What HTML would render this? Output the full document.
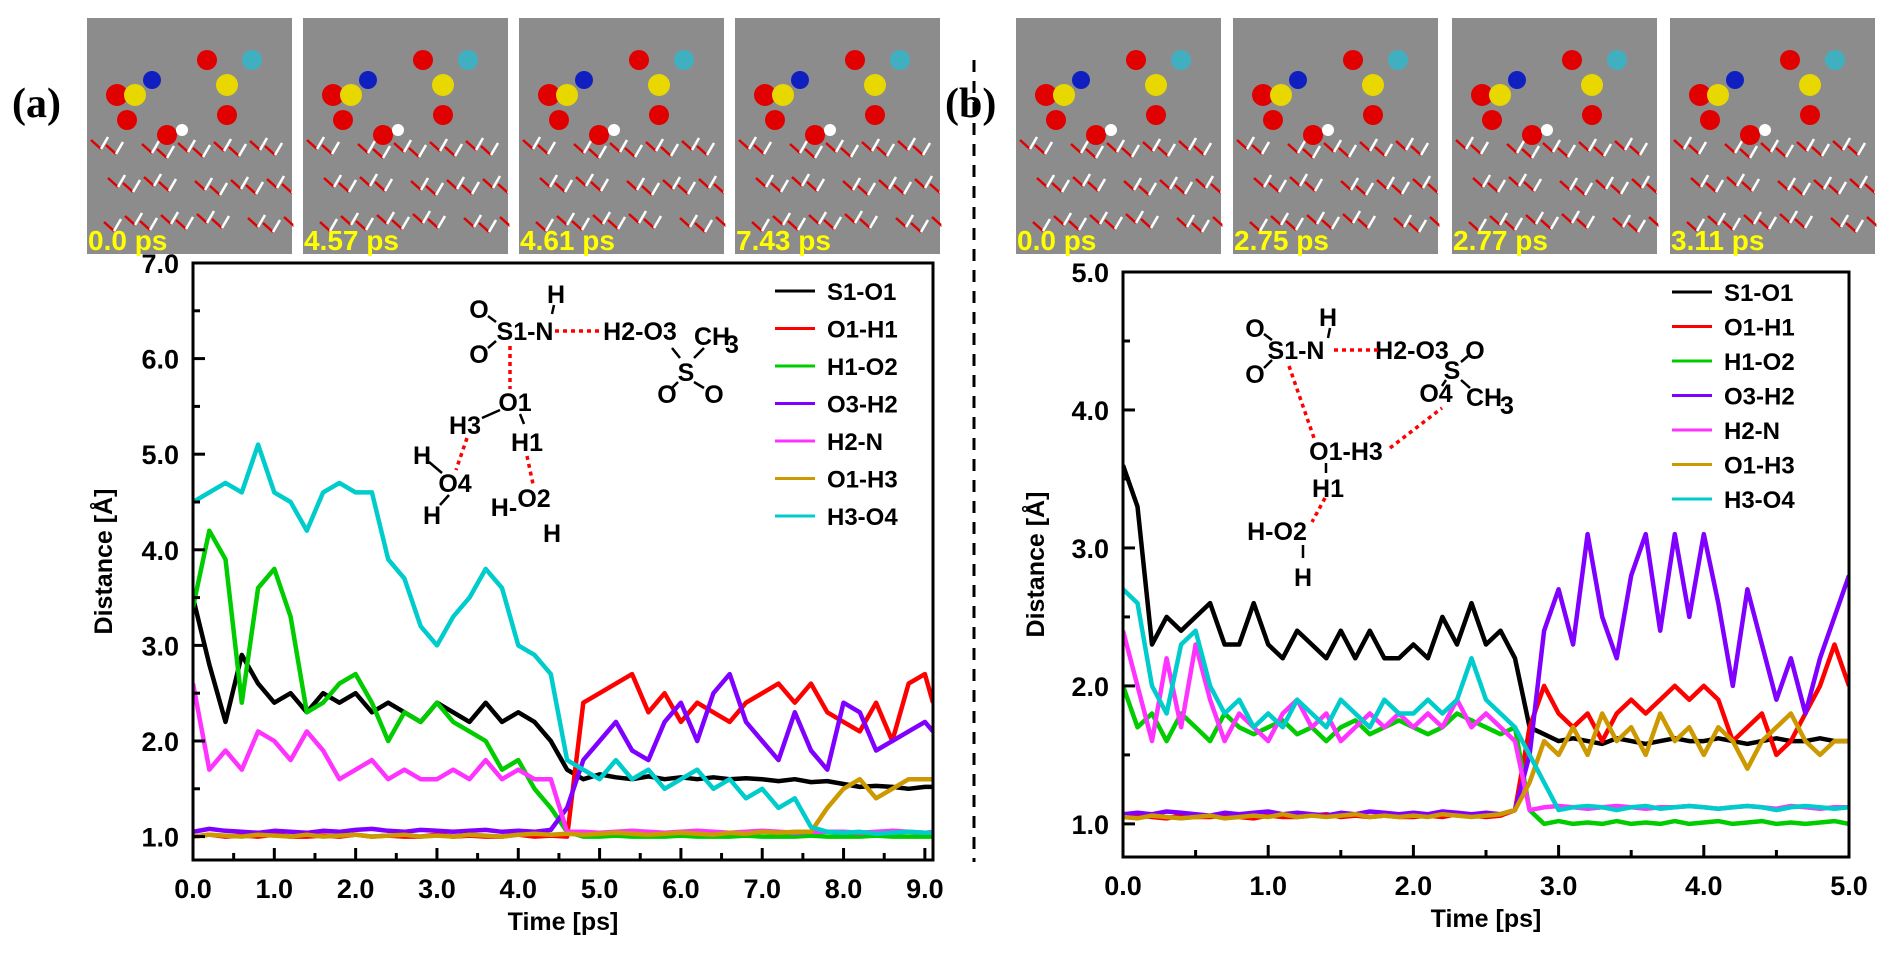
<!DOCTYPE html>
<html><head><meta charset="utf-8"><style>
html,body{margin:0;padding:0;background:#fff;}
svg{display:block;font-family:"Liberation Sans",Arial,sans-serif;}
.tk{font-size:27px;font-weight:bold;}
.lg{font-size:24px;font-weight:bold;}
.st{font-size:25px;font-weight:bold;}
.ttl{font-size:25px;font-weight:bold;}
.snap{font-size:28px;font-weight:bold;fill:#ffff00;}
</style></head><body>
<svg id="fig" width="1892" height="958" viewBox="0 0 1892 958">
<text x="12" y="117" font-family="Liberation Serif,serif" font-size="42" font-weight="bold">(a)</text>
<text x="945" y="117" font-family="Liberation Serif,serif" font-size="42" font-weight="bold">(b)</text>
<line x1="974" y1="60" x2="974" y2="862" stroke="#000" stroke-width="3" stroke-dasharray="12,9"/>
<g id="snaps"></g>
<g id="chartA"></g>
<g id="chartB"></g>
</svg>
<script>
// ---- Panel (a) data (time step 0.2 ps) ----
const tA = [0,0.2,0.4,0.6,0.8,1.0,1.2,1.4,1.6,1.8,2.0,2.2,2.4,2.6,2.8,3.0,3.2,3.4,3.6,3.8,4.0,4.2,4.4,4.6,4.8,5.0,5.2,5.4,5.6,5.8,6.0,6.2,6.4,6.6,6.8,7.0,7.2,7.4,7.6,7.8,8.0,8.2,8.4,8.6,8.8,9.0,9.1];
const aS1O1 = [3.5,2.8,2.2,2.9,2.6,2.4,2.5,2.3,2.5,2.4,2.5,2.3,2.4,2.3,2.2,2.4,2.3,2.2,2.4,2.2,2.3,2.2,2.0,1.7,1.6,1.65,1.62,1.6,1.63,1.6,1.62,1.6,1.62,1.6,1.61,1.6,1.58,1.6,1.57,1.58,1.55,1.52,1.53,1.52,1.5,1.52,1.52];
const aO1H1 = [1.0,1.02,1.0,1.01,1.0,1.02,1.0,1.0,1.01,1.0,1.02,1.0,1.01,1.0,1.0,1.02,1.0,1.01,1.0,1.0,1.02,1.0,1.01,1.0,2.4,2.5,2.6,2.7,2.3,2.5,2.2,2.4,2.3,2.2,2.4,2.5,2.6,2.4,2.6,2.3,2.2,2.1,2.4,2.0,2.6,2.7,2.4];
const aH1O2 = [3.4,4.2,3.9,2.4,3.6,3.8,3.3,2.3,2.4,2.6,2.7,2.4,2.0,2.3,2.2,2.4,2.2,2.1,2.0,1.7,1.8,1.5,1.3,1.05,1.0,1.0,1.01,1.0,1.0,1.0,1.01,1.0,1.0,1.0,1.01,1.0,1.0,1.0,1.01,1.0,1.0,1.0,1.01,1.0,1.0,1.0,1.0];
const aO3H2 = [1.05,1.08,1.06,1.05,1.04,1.06,1.05,1.04,1.06,1.05,1.07,1.08,1.06,1.05,1.07,1.06,1.05,1.06,1.07,1.05,1.06,1.05,1.07,1.3,1.8,2.0,2.2,1.9,1.8,2.2,2.4,2.0,2.5,2.7,2.2,2.0,1.8,2.3,1.9,1.7,2.4,2.3,1.9,2.0,2.1,2.2,2.1];
const aH2N = [2.6,1.7,1.9,1.7,2.1,2.0,1.8,2.1,1.9,1.6,1.7,1.8,1.6,1.7,1.6,1.6,1.7,1.6,1.8,1.6,1.7,1.6,1.6,1.05,1.05,1.04,1.05,1.06,1.05,1.04,1.05,1.06,1.05,1.04,1.05,1.06,1.05,1.04,1.05,1.05,1.05,1.04,1.05,1.06,1.05,1.04,1.05];
const aO1H3 = [1.0,1.02,1.01,1.0,1.02,1.01,1.0,1.02,1.0,1.01,1.02,1.0,1.01,1.02,1.0,1.01,1.0,1.02,1.01,1.0,1.02,1.03,1.02,1.03,1.02,1.03,1.04,1.03,1.02,1.03,1.04,1.03,1.02,1.04,1.03,1.05,1.04,1.05,1.05,1.3,1.5,1.6,1.4,1.5,1.6,1.6,1.6];
const aH3O4 = [4.5,4.6,4.7,4.6,5.1,4.6,4.5,4.2,4.6,4.7,4.6,4.6,3.9,3.7,3.2,3.0,3.3,3.5,3.8,3.6,3.0,2.9,2.7,1.8,1.7,1.6,1.8,1.6,1.7,1.5,1.6,1.7,1.5,1.6,1.4,1.5,1.3,1.4,1.1,1.05,1.04,1.05,1.03,1.04,1.05,1.04,1.04];

// ---- Panel (b) data (time step 0.1 ps) ----
const tB = [0,0.1,0.2,0.3,0.4,0.5,0.6,0.7,0.8,0.9,1.0,1.1,1.2,1.3,1.4,1.5,1.6,1.7,1.8,1.9,2.0,2.1,2.2,2.3,2.4,2.5,2.6,2.7,2.8,2.9,3.0,3.1,3.2,3.3,3.4,3.5,3.6,3.7,3.8,3.9,4.0,4.1,4.2,4.3,4.4,4.5,4.6,4.7,4.8,4.9,5.0];
const bS1O1 = [3.6,3.3,2.3,2.5,2.4,2.5,2.6,2.3,2.3,2.6,2.3,2.2,2.4,2.3,2.2,2.4,2.2,2.4,2.2,2.2,2.3,2.2,2.5,2.3,2.6,2.3,2.4,2.2,1.7,1.65,1.6,1.62,1.6,1.58,1.62,1.6,1.58,1.6,1.62,1.6,1.6,1.62,1.6,1.58,1.6,1.62,1.6,1.6,1.62,1.6,1.6];
const bO1H1 = [1.05,1.06,1.05,1.04,1.06,1.05,1.05,1.06,1.05,1.04,1.06,1.05,1.05,1.06,1.07,1.05,1.06,1.05,1.06,1.05,1.05,1.06,1.05,1.07,1.06,1.05,1.06,1.1,1.7,2.0,1.8,1.7,1.8,1.6,1.8,1.9,1.8,1.9,2.0,1.9,2.0,1.9,1.6,1.7,1.8,1.5,1.6,1.8,2.0,2.3,2.0];
const bH1O2 = [2.0,1.7,1.8,1.6,1.8,1.7,1.6,1.8,1.7,1.65,1.7,1.75,1.65,1.7,1.6,1.7,1.75,1.65,1.7,1.75,1.7,1.65,1.7,1.8,1.75,1.7,1.65,1.7,1.1,1.0,1.02,1.0,1.01,1.0,1.02,1.0,1.01,1.0,1.02,1.0,1.01,1.02,1.0,1.01,1.02,1.0,1.01,1.0,1.01,1.02,1.0];
const bO3H2 = [1.07,1.08,1.07,1.09,1.08,1.07,1.06,1.08,1.07,1.08,1.09,1.07,1.08,1.07,1.06,1.08,1.07,1.09,1.08,1.07,1.08,1.07,1.09,1.08,1.07,1.08,1.07,1.1,1.5,2.4,2.7,2.3,3.1,2.5,2.2,2.8,3.1,2.4,3.1,2.5,3.1,2.6,2.0,2.7,2.3,1.9,2.2,1.8,2.2,2.5,2.8];
const bH2N = [2.4,2.0,1.6,2.2,1.7,2.3,1.9,1.6,1.8,1.7,1.6,1.8,1.9,1.7,1.8,1.6,1.7,1.8,1.7,1.8,1.7,1.8,1.7,1.9,1.7,1.8,1.7,1.6,1.1,1.12,1.13,1.12,1.11,1.12,1.13,1.12,1.11,1.12,1.12,1.13,1.12,1.11,1.12,1.13,1.12,1.11,1.13,1.12,1.11,1.12,1.12];
const bO1H3 = [1.05,1.04,1.06,1.05,1.04,1.05,1.06,1.04,1.05,1.06,1.05,1.07,1.05,1.06,1.05,1.06,1.07,1.05,1.06,1.05,1.06,1.05,1.07,1.06,1.05,1.06,1.07,1.1,1.3,1.6,1.5,1.7,1.5,1.8,1.6,1.7,1.5,1.8,1.6,1.7,1.5,1.7,1.6,1.4,1.6,1.7,1.8,1.6,1.5,1.6,1.6];
const bH3O4 = [2.7,2.6,2.0,1.8,2.3,2.4,2.0,1.8,1.9,1.7,1.8,1.7,1.9,1.8,1.7,1.9,1.8,1.7,1.9,1.8,1.8,1.9,1.8,1.9,2.2,1.9,1.8,1.7,1.5,1.3,1.1,1.12,1.13,1.12,1.1,1.12,1.13,1.11,1.12,1.13,1.12,1.11,1.12,1.13,1.12,1.1,1.12,1.13,1.12,1.11,1.12];

const yTicksA = [1,2,3,4,5,6,7];
const yTickLabelsA = ["1.0","2.0","3.0","4.0","5.0","6.0","7.0"];
const xTicksA = [0,1,2,3,4,5,6,7,8,9];
const xTickLabelsA = ["0.0","1.0","2.0","3.0","4.0","5.0","6.0","7.0","8.0","9.0"];
const yTicksB = [1,2,3,4,5];
const yTickLabelsB = ["1.0","2.0","3.0","4.0","5.0"];
const xTicksB = [0,1,2,3,4,5];
const xTickLabelsB = ["0.0","1.0","2.0","3.0","4.0","5.0"];
const seriesNames = ["S1-O1","O1-H1","H1-O2","O3-H2","H2-N","O1-H3","H3-O4"];
const snapTimesA = ["0.0 ps","4.57 ps","4.61 ps","7.43 ps"];
const snapTimesB = ["0.0 ps","2.75 ps","2.77 ps","3.11 ps"];

const colors = ["#000000","#ff0000","#00cc00","#8000ff","#ff33ff","#cc9900","#00cccc"];
const NS = "http://www.w3.org/2000/svg";
function mk(tag, attrs, parent){ const e=document.createElementNS(NS,tag); for(const k in attrs) e.setAttribute(k,attrs[k]); parent.appendChild(e); return e; }

const snaps = document.getElementById('snaps');
function drawSnaps(xs, labels, pfx){
  xs.forEach((x,i)=>{
    const g = mk('g',{},snaps);
    
    
    mk('rect',{x:x,y:18,width:205,height:236,fill:'#8c8c8c'},g);
    for(let k=0;k<30;k++){
      const px = x+4+((k*53)%195), py = 140+((k*37)%110);
      mk('line',{x1:px,y1:py,x2:px+10,y2:py+9,stroke:'#e00000','stroke-width':2.5},g);
      mk('line',{x1:px+10,y1:py+9,x2:px+17,y2:py-3,stroke:'#ffffff','stroke-width':2.5},g);
    }
    mk('circle',{cx:x+30,cy:95,r:11,fill:'#e00000'},g);
    mk('circle',{cx:x+48,cy:95,r:11,fill:'#e8d800'},g);
    mk('circle',{cx:x+65,cy:80,r:9,fill:'#1020c0'},g);
    mk('circle',{cx:x+40,cy:120,r:10,fill:'#e00000'},g);
    mk('circle',{cx:x+140,cy:85,r:11,fill:'#e8d800'},g);
    mk('circle',{cx:x+165,cy:60,r:10,fill:'#40b0c0'},g);
    mk('circle',{cx:x+120,cy:60,r:10,fill:'#e00000'},g);
    mk('circle',{cx:x+140,cy:115,r:10,fill:'#e00000'},g);
    mk('circle',{cx:x+80,cy:135,r:10,fill:'#e00000'},g);
    mk('circle',{cx:x+95,cy:130,r:6,fill:'#ffffff'},g);
    const t = mk('text',{x:x+1,y:250,class:'snap'},g);
    t.textContent = labels[i];
    
    
  });
}
drawSnaps([87,303,519,735], snapTimesA, 'a');
drawSnaps([1016,1233,1452,1670], snapTimesB, 'b');

function chart(gid, cfg){
  const g = document.getElementById(gid);
  const X = v => cfg.L + (v-cfg.x0)/(cfg.x1-cfg.x0)*(cfg.R-cfg.L);
  const Y = v => cfg.B - (v-cfg.y0)/(cfg.y1-cfg.y0)*(cfg.B-cfg.T);
  const clip = mk('clipPath',{id:gid+'clip'},g);
  mk('rect',{x:cfg.L,y:cfg.T,width:cfg.R-cfg.L,height:cfg.B-cfg.T},clip);
  const sg = mk('g',{'clip-path':'url(#'+gid+'clip)'},g);
  cfg.series.forEach((s,i)=>{
    const d = s.map((v,j)=>(j?'L':'M')+X(cfg.t[j]).toFixed(1)+','+Y(v).toFixed(1)).join(' ');
    const p = mk('path',{d:d,fill:'none',stroke:colors[i],'stroke-width':4.5,'stroke-linejoin':'round'},sg);
    
    
  });
  const fr = mk('rect',{x:cfg.L,y:cfg.T,width:cfg.R-cfg.L,height:cfg.B-cfg.T,fill:'none',stroke:'#000','stroke-width':3},g);
  
  
  cfg.yt.forEach((v,i)=>{
    mk('line',{x1:cfg.L,y1:Y(v),x2:cfg.L+12,y2:Y(v),stroke:'#000','stroke-width':3},g);
    if(i<cfg.yt.length-1) mk('line',{x1:cfg.L,y1:Y(v+0.5),x2:cfg.L+7,y2:Y(v+0.5),stroke:'#000','stroke-width':3},g);
    const t = mk('text',{x:cfg.L-14,y:Y(v)+10,'text-anchor':'end',class:'tk'},g);
    t.textContent = cfg.ytl[i];
    
    
  });
  cfg.xt.forEach((v,i)=>{
    mk('line',{x1:X(v),y1:cfg.B,x2:X(v),y2:cfg.B-12,stroke:'#000','stroke-width':3},g);
    if(v+0.5<=cfg.x1) mk('line',{x1:X(v+0.5),y1:cfg.B,x2:X(v+0.5),y2:cfg.B-7,stroke:'#000','stroke-width':3},g);
    const t = mk('text',{x:X(v),y:cfg.B+38,'text-anchor':'middle',class:'tk'},g);
    t.textContent = cfg.xtl[i];
    
    
  });
  const xt = mk('text',{x:(cfg.L+cfg.R)/2,y:cfg.B+70,'text-anchor':'middle',class:'ttl'},g);
  xt.textContent = 'Time [ps]';
  
  
  const yt = mk('text',{x:0,y:0,'text-anchor':'middle',class:'ttl',transform:'translate('+cfg.ytx+','+((cfg.T+cfg.B)/2)+') rotate(-90)'},g);
  yt.textContent = 'Distance [Å]';
  
  
  seriesNames.forEach((n,i)=>{
    const y = cfg.lgY + i*cfg.lgD;
    const lg = mk('g',{},g);
    
    
    mk('line',{x1:cfg.lgX,y1:y,x2:cfg.lgX+40,y2:y,stroke:colors[i],'stroke-width':3},lg);
    const t = mk('text',{x:cfg.lgX+52,y:y+9,class:'lg'},lg);
    t.textContent = n;
  });
}
chart('chartA',{L:193,R:933,T:263,B:860,x0:0,x1:9.1,y0:0.755,y1:7.0,t:tA,
  series:[aS1O1,aO1H1,aH1O2,aO3H2,aH2N,aO1H3,aH3O4],yt:yTicksA,ytl:yTickLabelsA,xt:xTicksA,xtl:xTickLabelsA,
  ytx:112,lgX:775,lgY:291,lgD:37.5});
chart('chartB',{L:1123,R:1849,T:272,B:857,x0:0,x1:5,y0:0.76,y1:5.0,t:tB,
  series:[bS1O1,bO1H1,bH1O2,bO3H2,bH2N,bO1H3,bH3O4],yt:yTicksB,ytl:yTickLabelsB,xt:xTicksB,xtl:xTickLabelsB,
  ytx:1044,lgX:1672,lgY:292,lgD:34.5});

// items: [text, centerX, centerY, fontSize?]
function struct(items, bonds, dots, name){
  const g = mk('g',{},document.getElementById('fig'));
  
  
  items.forEach(it=>{ const t=mk('text',{x:it[1],y:it[2]+9,class:'st','text-anchor':'middle','font-size':it[3]||25},g); t.textContent=it[0]; });
  bonds.forEach(d=>mk('line',{x1:d[0],y1:d[1],x2:d[2],y2:d[3],stroke:'#000','stroke-width':2.5},g));
  dots.forEach(d=>mk('line',{x1:d[0],y1:d[1],x2:d[2],y2:d[3],stroke:'#ff0000','stroke-width':3.5,'stroke-dasharray':'4,4'},g));
}
struct([["H",556,294],["O",479,309],["S1-N",525,331],["O",479,354],["H2-O3",640,331],["CH",712,336],["3",732,344,17],["S",686,372],["O",667,394],["O",714,394],["O1",515,402],["H3",465,425],["H1",527,442],["H",422,455],["O4",455,483],["H",432,515],["H-",504,507],["O2",534,498],["H",552,533]],
  [[488,316,496,322],[488,348,496,341],[554,305,552,314],[672,348,680,358],[704,348,694,358],[678,382,672,388],[694,382,704,388],[500,410,482,418],[520,414,524,424],[429,462,442,473],[449,495,440,505]],
  [[555,331,603,331],[510,346,510,389],[467,438,456,470],[527,456,533,484]],'panel-a-structure');
struct([["H",1328,317],["O",1255,328],["S1-N",1296,350],["O",1255,374],["H2-O3",1412,350],["O",1475,350],["S",1452,370],["O4",1436,393],["CH",1484,397],["3",1507,405,17],["O1-H3",1346,451],["H1",1328,488],["H-O2",1277,531],["H",1303,577]],
  [[1264,334,1272,340],[1264,368,1272,360],[1330,328,1328,338],[1461,362,1468,356],[1446,380,1442,386],[1461,380,1470,388],[1326,463,1326,473],[1303,545,1303,558]],
  [[1334,350,1382,350],[1289,366,1314,438],[1390,448,1442,408],[1325,498,1312,522]],'panel-b-structure');
</script>
</body></html>
